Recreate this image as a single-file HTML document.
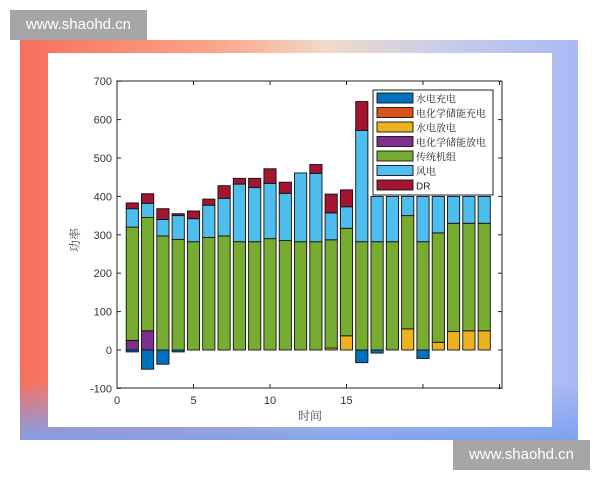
<!DOCTYPE html>
<html><head><meta charset="utf-8"><style>
body{margin:0;width:600px;height:480px;background:#fff;overflow:hidden;position:relative;font-family:"Liberation Sans",sans-serif}
.frame{position:absolute;left:20px;top:40px;width:558px;height:400px;background:linear-gradient(90deg,#f76f5e 0%,#f9a58a 35%,#f1dac8 55%,#c9cdea 75%,#a9b9f2 100%)}
.frame:after{content:"";position:absolute;left:0;right:0;bottom:0;height:60px;background:linear-gradient(180deg,rgba(140,170,240,0),rgba(125,160,240,0.95))}
.inner{position:absolute;left:48px;top:53px;width:504px;height:374px;background:#fff}
.wm{position:absolute;background:#a6a6a6;color:#fff;font-size:15px;line-height:30px;text-align:center;width:137px;height:30px}
svg{position:absolute;left:0;top:0}
</style></head><body>
<div class="frame"></div>
<div class="inner"></div>
<div class="wm" style="left:10px;top:10px">www.shaohd.cn</div>
<div class="wm" style="left:453px;top:440px">www.shaohd.cn</div>
<svg width="600" height="480" xmlns="http://www.w3.org/2000/svg" id="s"></svg>
<script>
const s=document.getElementById('s');
const X0=117,UX=15.3,Z=350,UY=0.384;
const y=v=>Z-v*UY;
let h='';
const data=[
[-5,'#7e2f8e',25,320,368,383],[-50,'#7e2f8e',50,345,382,407],[-37,null,0,297,340,368],[-5,null,0,288,350,355],
[0,null,0,282,342,362],[0,null,0,293,377,393],[0,null,0,297,395,428],[0,null,0,282,432,447],
[0,null,0,282,423,447],[0,null,0,290,434,472],[0,null,0,285,408,437],[0,null,0,282,461,461],
[0,null,0,282,460,483],[0,'#edb120',5,287,357,406],[0,'#edb120',37,317,373,417],[-33,null,0,282,572,647],
[-8,null,0,282,400,400],[0,null,0,282,400,400],[0,'#edb120',55,350,400,400],[-22,null,0,282,400,400],
[0,'#edb120',20,305,400,400],[0,'#edb120',48,330,400,400],[0,'#edb120',50,330,400,400],[0,'#edb120',50,330,400,400]];
const r=(x,a,b,c)=>{if(Math.abs(b-a)<0.1)return '';const t=Math.min(y(a),y(b)),hh=Math.abs(y(a)-y(b));h+=`<rect x="${x}" y="${t}" width="12.2" height="${hh}" fill="${c}" stroke="#111" stroke-width="0.9"/>`;};
data.forEach((d,i)=>{const x=X0+(i+1)*UX-6.1;
 if(d[0]<0)r(x,d[0],0,'#0072bd');
 let b=0; if(d[1]){r(x,0,d[2],d[1]);b=d[2];}
 r(x,b,d[3],'#77ac30');r(x,d[3],d[4],'#4dbeee');r(x,d[4],d[5],'#a2142f');});
h+=`<rect x="117" y="81" width="385" height="307" fill="none" stroke="#222" stroke-width="1"/>`;
for(let v=-100;v<=700;v+=100){h+=`<line x1="117" x2="121" y1="${y(v)}" y2="${y(v)}" stroke="#222"/><line x1="498" x2="502" y1="${y(v)}" y2="${y(v)}" stroke="#222"/><text x="112" y="${y(v)+4}" font-size="11" text-anchor="end" fill="#333">${v}</text>`;}
for(let t=0;t<=25;t+=5){const xx=X0+t*UX;h+=`<line x1="${xx}" x2="${xx}" y1="388" y2="384" stroke="#222"/><line x1="${xx}" x2="${xx}" y1="81" y2="85" stroke="#222"/>`;if(t<=15)h+=`<text x="${xx}" y="404" font-size="11" text-anchor="middle" fill="#333">${t}</text>`;}
h+=`<text x="310" y="420" font-size="12" text-anchor="middle" fill="#444" font-family="Noto Serif CJK SC,serif">时间</text>`;
h+=`<text transform="translate(79,240) rotate(-90)" font-size="12" text-anchor="middle" fill="#444" font-family="Noto Serif CJK SC,serif">功率</text>`;
h+=`<rect x="373" y="90" width="120" height="105" fill="#fff" stroke="#222"/>`;
const leg=[['#0072bd','水电充电'],['#d95319','电化学储能充电'],['#edb120','水电放电'],['#7e2f8e','电化学储能放电'],['#77ac30','传统机组'],['#4dbeee','风电'],['#a2142f','DR']];
leg.forEach((l,i)=>{const yy=93+i*14.5;h+=`<rect x="377" y="${yy}" width="36" height="10" fill="${l[0]}" stroke="#111" stroke-width="0.9"/><text x="416" y="${yy+9.5}" font-size="10" fill="#222" font-family="Liberation Sans,Noto Serif CJK SC,serif">${l[1]}</text>`;});
s.innerHTML=h;
</script>
</body></html>
